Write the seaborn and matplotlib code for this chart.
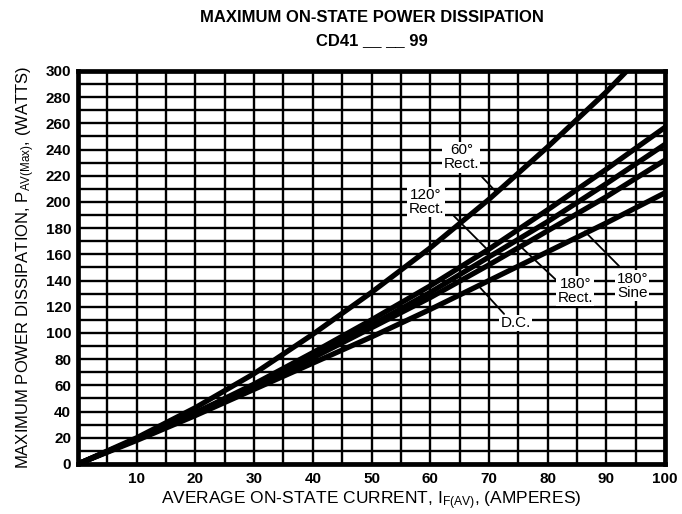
import numpy as np
import pandas as pd
import seaborn as sns
from matplotlib import pyplot as plt

# Average on-state current (A) and dissipation (W)
current = [0, 10, 20, 30, 40, 50, 60, 70, 80, 90, 100]
current_60 = [0, 10, 20, 30, 40, 50, 60, 70, 80, 90, 95]

p_dc = [0, 18, 37, 57, 77, 97, 118, 140, 162, 184, 207]
p_180_rect = [0, 19, 38, 59, 81, 104, 127, 152, 178, 204, 232]
p_180_sine = [0, 19, 39, 60, 83, 106, 131, 158, 185, 214, 244]
p_120_rect = [0, 19, 39, 61, 85, 110, 136, 164, 194, 225, 257]
p_60_rect = [0, 20, 43, 69, 99, 131, 165, 202, 242, 284, 307]

curve_names = ["D.C.", "180° Rect.", "180° Sine", "120° Rect.", "60° Rect."]

frames = []
for name, xs, ys in zip(curve_names,
                        [current, current, current, current, current_60],
                        [p_dc, p_180_rect, p_180_sine, p_120_rect, p_60_rect]):
    frames.append(pd.DataFrame({"current": xs, "power": ys, "curve": name}))
df = pd.concat(frames, ignore_index=True)

# label text, label position, leader start, leader end (data units)
labels = [
    ("60°\nRect.", (65.3, 234), (68.5, 220.6), (71.6, 206)),
    ("120°\nRect.", (59.3, 200), (63.7, 190.8), (69.8, 163.4)),
    ("180°\nRect.", (84.7, 132), (81.8, 139), (75.3, 166.4)),
    ("180°\nSine", (94.4, 136), (92.5, 149.6), (86.0, 179)),
    ("D.C.", (74.6, 107.6), (72.9, 113), (68.1, 136.6)),
]

sns.set_theme(style="white")
plt.rcParams["font.family"] = ["Liberation Sans", "DejaVu Sans"]

fig = plt.figure(figsize=(6.82, 5.14), dpi=100)
ax = fig.add_axes([0.1144, 0.0973, 0.8607, 0.7646])

sns.lineplot(data=df, x="current", y="power", hue="curve",
             palette=["black"] * len(curve_names), legend=False,
             linewidth=3.8, ax=ax, zorder=3, estimator=None, sort=False)

ax.set_xlim(0, 100)
ax.set_ylim(0, 300)
ax.set_xticks(range(10, 101, 10))
ax.set_xticks(range(0, 101, 5), minor=True)
ax.set_yticks(range(0, 301, 20))
ax.set_yticks(range(0, 301, 10), minor=True)
ax.grid(True, which="both", color="black", linewidth=1.7, zorder=1)
ax.set_axisbelow(True)
ax.tick_params(which="both", length=0)
ax.tick_params(axis="x", labelsize=11, pad=6)
ax.tick_params(axis="y", labelsize=11, pad=5)
for lbl in ax.get_xticklabels() + ax.get_yticklabels():
    lbl.set_fontweight("bold")
    lbl.set_color("black")

for spine in ax.spines.values():
    spine.set_color("black")
    spine.set_linewidth(3.4)
    spine.set_zorder(5)

for text, pos, start, end in labels:
    ax.annotate("", xy=end, xytext=start,
                arrowprops=dict(arrowstyle="-", color="black", lw=1.3),
                zorder=4)
    ax.text(pos[0], pos[1], text, ha="center", va="center", fontsize=11,
            color="black", zorder=6, linespacing=1.0,
            bbox=dict(facecolor="white", edgecolor="none", pad=1.0))

ax.set_xlabel(r"AVERAGE ON-STATE CURRENT, $\mathregular{I_{F(AV)}}$, (AMPERES)",
              fontsize=12.5, color="black", labelpad=2)
ax.set_ylabel(r"MAXIMUM POWER DISSIPATION, $\mathregular{P_{AV(Max)}}$, (WATTS)",
              fontsize=12, color="black", labelpad=6)

cx = 0.1144 + 0.8607 / 2
fig.text(cx, 0.965, "MAXIMUM ON-STATE POWER DISSIPATION", ha="center", va="center",
         fontsize=12, fontweight="bold", color="black")
fig.text(cx, 0.922, "CD41 __ __ 99", ha="center", va="center",
         fontsize=12, fontweight="bold", color="black")

fig.savefig("out.png", dpi=100)
